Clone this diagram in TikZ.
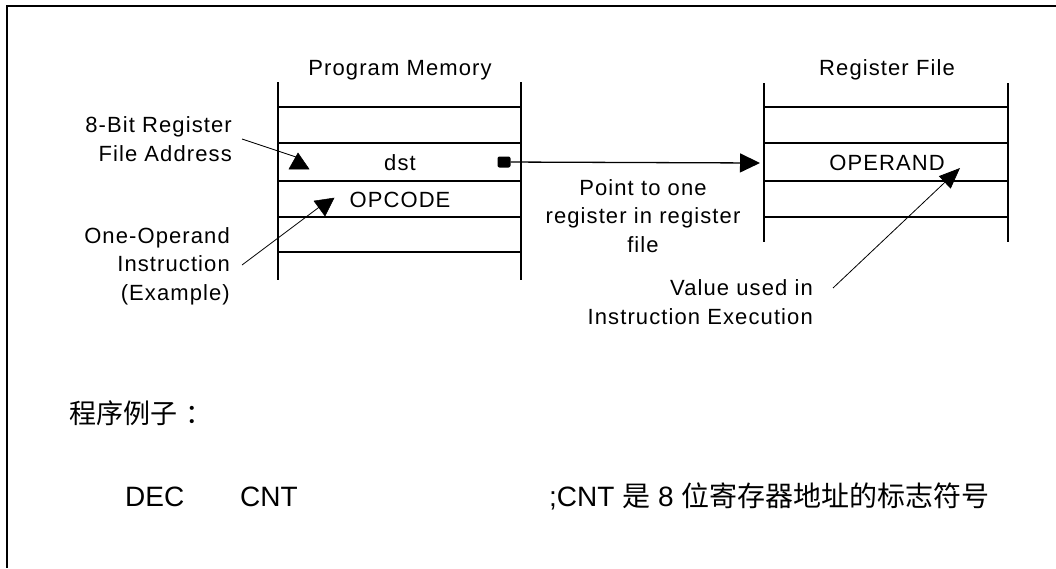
\documentclass[tikz,border=0pt]{standalone}
\usepackage{fontspec}
\setmainfont{Liberation Sans}
\newfontfamily\diagfont[LetterSpace=5]{Liberation Sans}
\newfontfamily\cjkfont{Noto Sans CJK SC}
\usetikzlibrary{arrows.meta}
\begin{document}
\begin{tikzpicture}[x=1pt,y=-1pt,
  lbl/.style={inner sep=0pt, font=\diagfont\fontsize{22}{28.5}\selectfont},
  big/.style={inner sep=0pt, anchor=base west, font=\fontsize{28}{32}\selectfont},
  gridline/.style={line width=1.3pt},
  lead/.style={line width=0.8pt},
  frameline/.style={line width=2pt},
  tri/.style={fill=black, draw=black, line width=0.5pt, line join=miter}]
\useasboundingbox (0,0) rectangle (1056,568);
% frame (top and left only)
\draw[frameline] (1056,6) -- (7,6) -- (7,568);
% Program Memory column
\draw[gridline] (278,82) -- (278,280) (521,82) -- (521,280);
\foreach \y in {107,143,181,217,252} \draw[gridline] (278,\y) -- (521,\y);
% Register File column
\draw[gridline] (764,83) -- (764,242) (1008,83) -- (1008,242);
\foreach \y in {107,143,181,217} \draw[gridline] (764,\y) -- (1008,\y);
% labels
\node[lbl] (pm) at (400,70) {Program Memory};
\node[lbl] (rf) at (887,70) {Register File};
\node[lbl] (dst) at (400,163) {dst};
\node[lbl] (opc) at (400,200) {OPCODE};
\node[lbl] (opd) at (887,163) {OPERAND};
\node[lbl,align=center] (pt) at (643,216) {Point to one\\register in register\\file};
\node[lbl,align=right,anchor=east] (addr) at (232,139) {8-Bit Register\\File Address};
\node[lbl,align=right,anchor=east] (ins) at (230,266) {One-Operand\\Instruction\\(Example)};
\node[lbl,align=right,anchor=east] (val) at (813,302) {Value used in\\Instruction Execution};
% connector end points
\coordinate (addrS) at (242,139);
\coordinate (addrT) at (296,157);
\coordinate (insS) at (242,265);
\coordinate (insT) at (322,205);
\coordinate (rfin) at (760,163);
\coordinate (valS) at (833,288);
\coordinate (opdT) at (960,168);
% 8-bit address leader
\draw[lead] (addrS) -- (addrT);
\filldraw[tri] (289,169) -- (309,169) -- (298,153) -- cycle;
% opcode leader
\draw[lead] (insS) -- (insT);
\filldraw[tri] (314,201) -- (334,198) -- (325,216) -- cycle;
% dst pointer
\node[fill=black, rounded corners=2pt, minimum width=13pt, minimum height=11pt, inner sep=0pt] (dot) at (504,162) {};
\draw[gridline,-{Triangle[length=20pt,width=19pt]}] (dot) -- (rfin);
% value leader
\draw[lead,-{Triangle[length=21pt,width=17pt]}] (valS) -- (opdT);
% bottom text
\node[inner sep=0pt, anchor=base west, font=\cjkfont\fontsize{27}{30}\selectfont] (ex) at (69,423) {程序例子\hspace{0.3em}：};
\node[big] (dec) at (125,506) {DEC};
\node[big] (cnt) at (240,506) {CNT};
\node[big] (cmt) at (549,506) {;CNT {\cjkfont 是} 8 {\cjkfont 位寄存器地址的标志符号}};
\end{tikzpicture}
\end{document}
